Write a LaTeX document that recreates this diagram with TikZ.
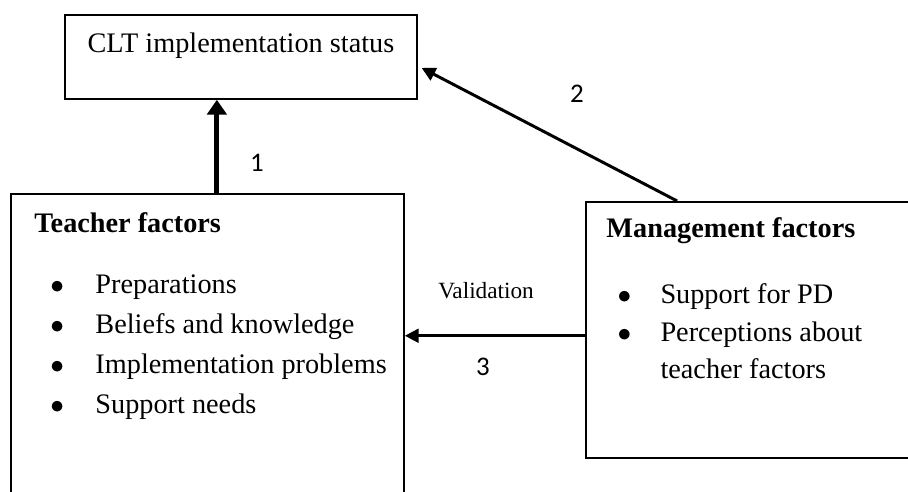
\documentclass[tikz,border=0pt]{standalone}
\usepackage{fontspec}
\setmainfont{Liberation Serif}
\newfontfamily\numfont{Carlito}
\usetikzlibrary{arrows.meta}

\tikzset{
  frame/.style={draw, line width=0.8pt, inner sep=0pt},
  item/.style={anchor=base west, inner sep=0pt, font=\fontsize{12.4}{15}\selectfont},
  title/.style={item, font=\fontsize{12.4}{15}\selectfont\bfseries},
  numlab/.style={anchor=base, inner sep=0pt, font=\numfont\fontsize{11.8}{14}\selectfont},
}

\begin{document}
\begin{tikzpicture}[>={Triangle[length=6pt,width=6pt]}]
\useasboundingbox (0,0) rectangle (14,7.571);
\clip (0,0) rectangle (14,7.571);

% Boxes
\node[frame, anchor=north west, minimum width=5.427cm, text height=0.586cm, text depth=0.709cm,
      font=\fontsize{12.4}{15}\selectfont] (clt) at (0.987,7.355) {CLT implementation status};
\node[frame, anchor=north west, minimum width=6.06cm, minimum height=5.2cm] (teacher) at (0.154,4.595) {};
\node[frame, anchor=north west, minimum width=5.5cm, minimum height=3.948cm] (mgmt) at (9.020,4.472) {};

% Teacher factors
\node[title] (teachertitle) at (0.524,3.993) {Teacher factors};
\foreach \y/\lab [count=\i] in {3.053/Preparations, 2.436/Beliefs and knowledge, 1.819/Implementation problems, 1.203/Support needs} {
  \node[item] (tbul\i) at (0.771,\y) {$\bullet$};
  \node[item] (titem\i) at (1.465,\y) {\lab};
}

% Management factors
\node[title] (mgmttitle) at (9.344,3.916) {Management factors};
\node[item] (mbul1) at (9.514,2.899) {$\bullet$};
\node[item] (mitem1) at (10.177,2.899) {Support for PD};
\node[item] (mbul2) at (9.514,2.298) {$\bullet$};
\node[item] (mitem2) at (10.177,2.298) {Perceptions about};
\node[item] (mitem3) at (10.177,1.742) {teacher factors};

% Connectors
\draw[-{Triangle[length=6.5pt,width=8.5pt]}, line width=2.2pt] ([xshift=0.146cm]teacher.north) -- ([xshift=0.146cm]teacher.north |- clt.south);
\draw[->, line width=1.3pt] ([xshift=1.42cm]mgmt.north west) -- ([xshift=0.06cm,yshift=-0.17cm]clt.east);
\coordinate (vtail) at ([yshift=-0.09cm]mgmt.west);
\draw[->, line width=1.2pt] (vtail) -- (vtail -| teacher.east);

% Labels
\node[numlab] (one) at (3.963,4.919) {1};
\node[numlab] (two) at (8.897,5.983) {2};
\node[anchor=base, inner sep=0pt, font=\fontsize{10.2}{12}\selectfont] (valid) at (7.494,2.976) {Validation};
\node[numlab] (three) at (7.447,1.789) {3};

\end{tikzpicture}
\end{document}
